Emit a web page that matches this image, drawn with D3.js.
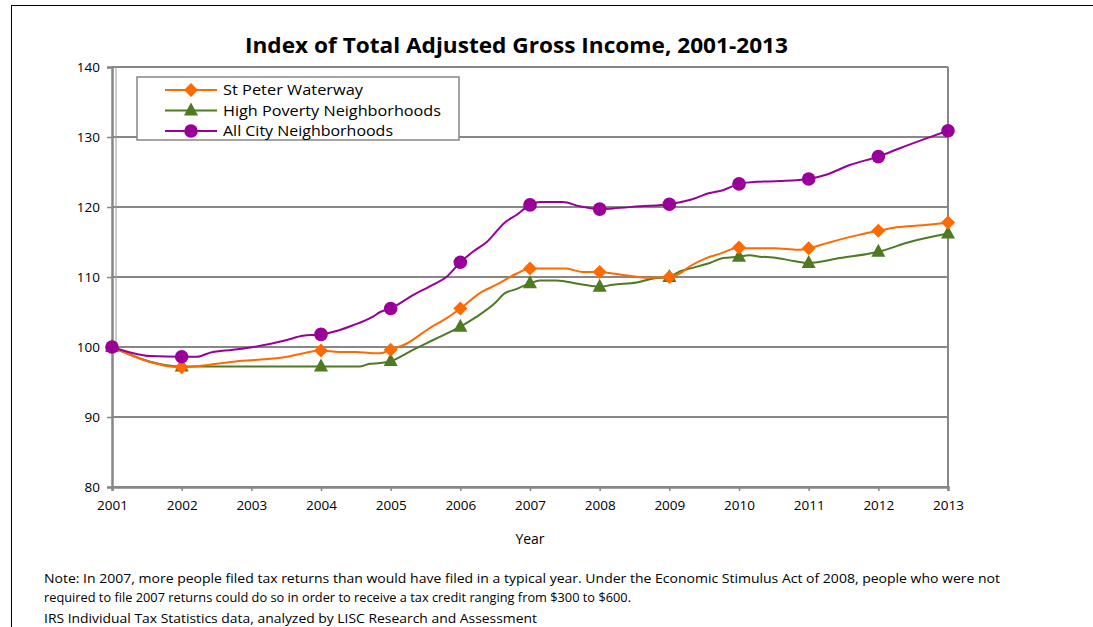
<!DOCTYPE html>
<html><head><meta charset="utf-8">
<script src="https://cdn.jsdelivr.net/npm/d3@7"></script>
<style>body{margin:0;background:#fff}svg{display:block}text{font-family:"Open Sans",Lato,sans-serif;fill:#000}</style>
</head><body>
<svg id="c" width="1093" height="627"></svg>
<script>
const title = "Index of Total Adjusted Gross Income, 2001-2013";
const seriesNames = ["St Peter Waterway", "High Poverty Neighborhoods", "All City Neighborhoods"];
const xTicks = [2001,2002,2003,2004,2005,2006,2007,2008,2009,2010,2011,2012,2013];
const yTicks = [80,90,100,110,120,130,140];
const markerYears = [2001,2002,2004,2005,2006,2007,2008,2009,2010,2011,2012,2013];
const stPeterMarkers = [100,97.1,99.5,99.6,105.5,111.2,110.7,110.0,114.2,114.1,116.6,117.8];
const highPovMarkers = [100,97.2,97.2,98.0,102.9,109.1,108.6,110.0,112.9,112.0,113.6,116.2];
const allCityMarkers = [100,98.6,101.8,105.5,112.1,120.3,119.7,120.4,123.3,124.0,127.2,130.9];
// traced line paths [year, value]
const stPeterTrace = [[2001,100],[2001.5,98.0],[2001.78,97.3],[2002,97.1],[2002.26,97.3],[2002.74,97.9],[2003.51,98.6],[2003.7,99.0],[2004,99.5],[2004.26,99.3],[2004.5,99.3],[2004.75,99.1],[2004.85,99.1],[2005,99.6],[2005.23,100.5],[2005.56,102.7],[2005.8,104.1],[2006,105.5],[2006.28,107.7],[2006.52,108.9],[2006.81,110.5],[2007,111.2],[2007.19,111.2],[2007.52,111.2],[2007.76,110.7],[2008,110.7],[2008.19,110.5],[2008.48,110.1],[2008.67,109.9],[2009,110.0],[2009.15,110.5],[2009.29,111.5],[2009.53,112.7],[2009.72,113.3],[2010,114.2],[2010.13,114.1],[2010.51,114.1],[2010.85,113.9],[2011,114.1],[2011.25,114.8],[2011.63,115.8],[2012,116.6],[2012.26,117.1],[2012.64,117.4],[2013,117.8]];
const highPovTrace = [[2001,100],[2001.55,97.9],[2001.78,97.4],[2002,97.2],[2002.5,97.2],[2003,97.2],[2004,97.2],[2004.55,97.2],[2004.7,97.6],[2004.85,97.7],[2005,98.0],[2005.32,99.6],[2005.61,101.0],[2006,102.9],[2006.23,104.3],[2006.49,106.2],[2006.64,107.7],[2006.78,108.2],[2007,109.1],[2007.14,109.5],[2007.38,109.5],[2007.71,109.0],[2008,108.6],[2008.19,108.9],[2008.53,109.2],[2008.77,109.8],[2009,110.0],[2009.15,110.8],[2009.29,111.2],[2009.58,112.0],[2009.77,112.7],[2010,112.9],[2010.15,113.1],[2010.3,112.9],[2010.49,112.8],[2010.78,112.3],[2011,112.0],[2011.45,112.7],[2012,113.6],[2012.45,115.0],[2013,116.2]];
const allCityTrace = [[2001,100],[2001.55,98.7],[2002,98.6],[2002.22,98.6],[2002.41,99.2],[2002.74,99.6],[2003.03,100.0],[2003.51,101.0],[2003.74,101.6],[2004,101.8],[2004.26,102.4],[2004.46,103.1],[2004.74,104.3],[2004.85,105.0],[2005,105.5],[2005.32,107.4],[2005.61,108.9],[2005.8,110.0],[2006,112.1],[2006.18,113.6],[2006.38,115.0],[2006.64,117.8],[2006.81,118.9],[2007,120.3],[2007.14,120.7],[2007.47,120.7],[2007.71,120.1],[2008,119.7],[2008.19,119.8],[2008.58,120.1],[2009,120.4],[2009.29,121.0],[2009.58,122.0],[2009.77,122.4],[2010,123.3],[2010.25,123.6],[2010.59,123.7],[2011,124.0],[2011.25,124.6],[2011.59,126.0],[2012,127.2],[2012.31,128.4],[2012.69,129.8],[2013,130.9]];
const noteLines = ["Note: In 2007, more people filed tax returns than would have filed in a typical year. Under the Economic Stimulus Act of 2008, people who were not",
"required to file 2007 returns could do so in order to receive a tax credit ranging from $300 to $600.",
"IRS Individual Tax Statistics data, analyzed by LISC Research and Assessment"];

const colors = ["#FF6A00","#4E7A22","#990099"];
const svg = d3.select("#c");
const x = d3.scaleLinear().domain([2001,2013]).range([112,948]);
const y = d3.scaleLinear().domain([80,140]).range([487,67]);
const grid = "#878787";

// outer frame
svg.append("line").attr("x1",11).attr("x2",1093).attr("y1",5.5).attr("y2",5.5).attr("stroke","#000");
svg.append("line").attr("x1",11.5).attr("x2",11.5).attr("y1",5).attr("y2",627).attr("stroke","#000");

svg.append("text").attr("x",245).attr("y",53)
  .attr("textLength",543).attr("lengthAdjust","spacingAndGlyphs")
  .style("font-size","21px").style("font-weight","bold").text(title);

// gridlines
svg.append("g").selectAll("line").data(yTicks).join("line")
  .attr("x1",112).attr("x2",948).attr("y1",d=>y(d)).attr("y2",d=>y(d))
  .attr("stroke",grid).attr("stroke-width",2);
svg.append("line").attr("x1",948).attr("x2",948).attr("y1",67).attr("y2",487).attr("stroke",grid).attr("stroke-width",2);

// y axis
const ya = svg.append("g").attr("transform","translate(112,0)")
  .call(d3.axisLeft(y).tickValues(yTicks).tickSize(5).tickPadding(7).tickFormat(d3.format("d")));
ya.select(".domain").attr("stroke",grid).attr("stroke-width",2.5);
ya.selectAll(".tick line").attr("stroke",grid).attr("stroke-width",1.5);
ya.selectAll("text").style("font-size","13.5px").attr("fill","#000");
svg.append("line").attr("x1",116).attr("x2",116).attr("y1",67).attr("y2",345).attr("stroke","#999").attr("stroke-width",1);

// x axis
const xa = svg.append("g").attr("transform","translate(0,487)")
  .call(d3.axisBottom(x).tickValues(xTicks).tickSize(4).tickPadding(9).tickFormat(d3.format("d")));
xa.select(".domain").attr("stroke",grid).attr("stroke-width",2.5);
xa.selectAll(".tick line").attr("stroke",grid).attr("stroke-width",1.5);
xa.selectAll("text").style("font-size","13.5px").attr("fill","#000");
svg.append("text").attr("x",530).attr("y",544).attr("text-anchor","middle").style("font-size","14px").text("Year");

// lines
const line = d3.line().x(d=>x(d[0])).y(d=>y(d[1])).curve(d3.curveMonotoneX);
const traces = [stPeterTrace, highPovTrace, allCityTrace];
const markers = [stPeterMarkers, highPovMarkers, allCityMarkers];

function drawMarker(g, i, cx, cy){
  if(i===0){
    g.append("path").attr("d",`M${cx},${cy-7}L${cx+7},${cy}L${cx},${cy+7}L${cx-7},${cy}Z`).attr("fill",colors[0]);
  } else if(i===1){
    g.append("path").attr("d",`M${cx},${cy-8}L${cx+7},${cy+5}L${cx-7},${cy+5}Z`).attr("fill",colors[1]);
  } else {
    g.append("circle").attr("cx",cx).attr("cy",cy).attr("r",6.8).attr("fill",colors[2]);
  }
}

[1,0,2].forEach(i=>{
  svg.append("path").datum(traces[i]).attr("d",line).attr("fill","none")
    .attr("stroke",colors[i]).attr("stroke-width",2);
});
[1,0,2].forEach(i=>{
  const g = svg.append("g");
  markerYears.forEach((yr,k)=>drawMarker(g,i,x(yr),y(markers[i][k])));
});

// legend
const legendW = [140,218,170];
const lg = svg.append("g");
lg.append("rect").attr("x",137).attr("y",77).attr("width",322).attr("height",63)
  .attr("fill","#fff").attr("stroke",grid).attr("stroke-width",1.5);
seriesNames.forEach((n,i)=>{
  const ly = 90 + i*20.5;
  lg.append("line").attr("x1",165).attr("x2",217).attr("y1",ly).attr("y2",ly).attr("stroke",colors[i]).attr("stroke-width",2);
  drawMarker(lg,i,191,ly);
  lg.append("text").attr("x",223).attr("y",ly+5).attr("textLength",legendW[i]).attr("lengthAdjust","spacingAndGlyphs")
    .style("font-size","14.5px").text(n);
});

// notes
const noteW = [956,587,493];
noteLines.forEach((t,i)=>{
  svg.append("text").attr("x",44).attr("y",[583,602,623][i])
    .attr("textLength",noteW[i]).attr("lengthAdjust","spacingAndGlyphs")
    .style("font-size","13px").text(t);
});
</script>
</body></html>
